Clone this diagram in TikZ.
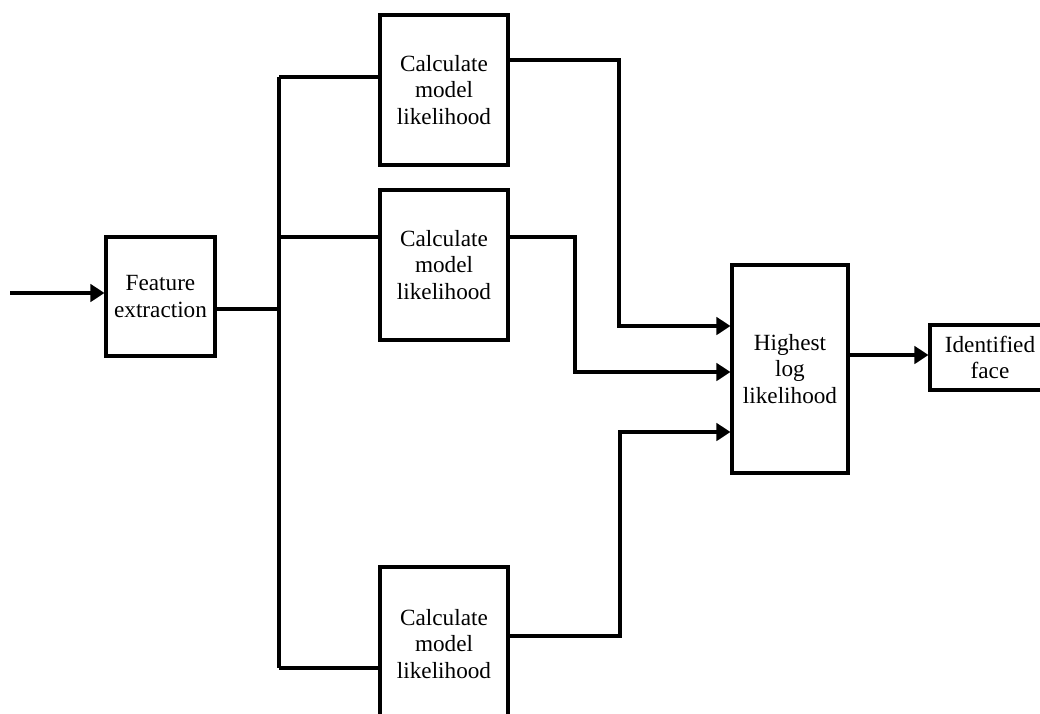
\documentclass[tikz,border=0pt]{standalone}
\usepackage{fontspec}
\setmainfont{Liberation Serif}
\usetikzlibrary{arrows.meta}
\begin{document}
\begin{tikzpicture}[x=0.025cm,y=-0.025cm,
  box/.style={draw,line width=2.2pt,fill=white,inner sep=0pt,align=center,
    font=\fontsize{16.5}{19}\selectfont},
  wire/.style={line width=2.2pt},
  arr/.style={wire,-{Triangle[length=10pt,width=12.5pt]}}]
\useasboundingbox (0,0) rectangle (1040,713);
\clip (0,0) rectangle (1040,713);
\node[box,minimum width=2.725cm,minimum height=2.975cm] (fe) at (160.5,296.5) {Feature\\extraction};
\node[box,minimum width=3.2cm,minimum height=3.75cm] (c1) at (444,90) {Calculate\\model\\likelihood};
\node[box,minimum width=3.2cm,minimum height=3.75cm] (c2) at (444,265) {Calculate\\model\\likelihood};
\node[box,minimum width=3.2cm,minimum height=3.85cm] (c3) at (444,644) {Calculate\\model\\likelihood};
\node[box,minimum width=2.9cm,minimum height=5.2cm] (hl) at (790,369) {Highest\\log\\likelihood};
\node[box,minimum width=3.0cm,minimum height=1.625cm] (id) at (990,357.5) {Identified\\face};
\coordinate (in) at (10,293);
\coordinate (b) at (279,309);
\coordinate (bt) at (279,77);
\coordinate (bm) at (279,237);
\coordinate (bb) at (279,668);
\coordinate (k1) at (619,60);
\coordinate (k1b) at (619,326);
\coordinate (k2) at (575,237);
\coordinate (k2b) at (575,372);
\coordinate (k3) at (620,636);
\coordinate (k3b) at (620,432);
\coordinate (ho) at (848,355);
\draw[arr] (in) -- (in -| fe.west);
\draw[wire] (fe.east |- b) -- (b);
\draw[wire] (bt) -- (bb);
\draw[wire] (bt) -- (bt -| c1.west);
\draw[wire] (bm) -- (bm -| c2.west);
\draw[wire] (bb) -- (bb -| c3.west);
\draw[arr] (c1.east |- k1) -- (k1) -- (k1b) -- (k1b -| hl.west);
\draw[arr] (c2.east |- k2) -- (k2) -- (k2b) -- (k2b -| hl.west);
\draw[arr] (c3.east |- k3) -- (k3) -- (k3b) -- (k3b -| hl.west);
\draw[arr] (hl.east |- ho) -- (ho -| id.west);
\end{tikzpicture}
\end{document}
